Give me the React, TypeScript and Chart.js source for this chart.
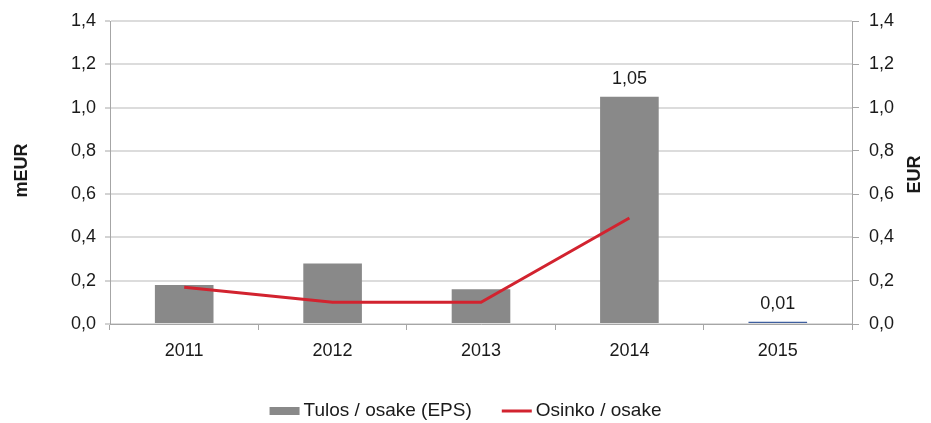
import React, { useEffect, useRef } from "react";
import { Chart, registerables } from "chart.js";

Chart.register(...registerables);

const years = ["2011", "2012", "2013", "2014", "2015"];
const eps = [0.18, 0.28, 0.16, 1.05, 0.01];
const epsColors = ["#898989", "#898989", "#898989", "#898989", "#3f5f9f"];
const epsShowLabel = [false, false, false, true, true];
const dividend = [0.17, 0.1, 0.1, 0.49, null];
const seriesNames = ["Tulos / osake (EPS)", "Osinko / osake"];
const leftTitle = "mEUR";
const rightTitle = "EUR";

const FONT = "'Liberation Sans', Arial, sans-serif";
const fmt = (v: number, d: number) => v.toFixed(d).replace(".", ",");

const extrasPlugin = {
  id: "extras",
  afterDraw(chart: any) {
    const ctx = chart.ctx as CanvasRenderingContext2D;
    const area = chart.chartArea;
    ctx.save();
    // data labels
    const meta = chart.getDatasetMeta(0);
    ctx.fillStyle = "#1a1a1a";
    ctx.font = `18px ${FONT}`;
    ctx.textAlign = "center";
    ctx.textBaseline = "bottom";
    meta.data.forEach((bar: any, i: number) => {
      if (!epsShowLabel[i]) return;
      ctx.fillText(fmt(eps[i], 2), bar.x, bar.y - 9);
    });
    // axis titles
    ctx.font = `bold 18px ${FONT}`;
    ctx.textBaseline = "middle";
    const cy = (area.top + area.bottom) / 2;
    ctx.save();
    ctx.translate(22, cy - 2);
    ctx.rotate(-Math.PI / 2);
    ctx.fillText(leftTitle, 0, 0);
    ctx.restore();
    ctx.save();
    ctx.translate(915, cy + 2);
    ctx.rotate(-Math.PI / 2);
    ctx.fillText(rightTitle, 0, 0);
    ctx.restore();
    // legend
    ctx.font = `19px ${FONT}`;
    ctx.textAlign = "left";
    const sw = 30, gapT = 4, gapItem = 30;
    const w0 = ctx.measureText(seriesNames[0]).width;
    const w1 = ctx.measureText(seriesNames[1]).width;
    const total = sw + gapT + w0 + gapItem + sw + gapT + w1;
    let x = chart.width / 2 - total / 2;
    const ly = 411;
    ctx.fillStyle = "#898989";
    ctx.fillRect(x, ly - 4, sw, 8);
    x += sw + gapT;
    ctx.fillStyle = "#1a1a1a";
    ctx.fillText(seriesNames[0], x, ly);
    x += w0 + gapItem;
    ctx.strokeStyle = "#d2232f";
    ctx.lineWidth = 3;
    ctx.beginPath();
    ctx.moveTo(x, ly);
    ctx.lineTo(x + sw, ly);
    ctx.stroke();
    x += sw + gapT;
    ctx.fillStyle = "#1a1a1a";
    ctx.fillText(seriesNames[1], x, ly);
    ctx.restore();
  },
};

export default function App() {
  const ref = useRef<HTMLCanvasElement | null>(null);
  useEffect(() => {
    if (!ref.current) return;
    Chart.defaults.font.family = FONT;
    const tickFont = { size: 18, family: FONT };
    const chart = new Chart(ref.current, {
      type: "bar",
      data: {
        labels: years,
        datasets: [
          {
            type: "bar",
            label: seriesNames[0],
            data: eps,
            backgroundColor: epsColors,
            barPercentage: 0.395,
            categoryPercentage: 1,
            yAxisID: "y",
            order: 1,
          },
          {
            type: "line",
            label: seriesNames[1],
            data: dividend as any,
            borderColor: "#d2232f",
            backgroundColor: "#d2232f",
            borderWidth: 3,
            pointRadius: 0,
            tension: 0,
            yAxisID: "y1",
            order: 0,
          },
        ] as any,
      },
      options: {
        animation: false,
        responsive: true,
        maintainAspectRatio: false,
        layout: { padding: { top: 21, left: 0, right: 0, bottom: 0 } },
        plugins: { legend: { display: false }, tooltip: { enabled: false } },
        scales: {
          x: {
            grid: {
              offset: true,
              drawOnChartArea: false,
              drawTicks: true,
              tickLength: 6,
              color: "#a6a6a6",
            },
            border: { color: "#a6a6a6", width: 1 },
            ticks: { color: "#1a1a1a", font: tickFont, padding: 10 },
            afterFit: (s: any) => {
              s.height = 99;
            },
          },
          y: {
            position: "left",
            min: 0,
            max: 1.4,
            ticks: {
              stepSize: 0.2,
              color: "#1a1a1a",
              font: tickFont,
              padding: 9,
              callback: (v: any) => fmt(Number(v), 1),
            },
            grid: {
              color: "#dcdcdc",
              lineWidth: 2,
              tickColor: "#a6a6a6",
              tickLength: 5,
              tickWidth: 1,
            },
            border: { color: "#a6a6a6", width: 1 },
            afterFit: (s: any) => {
              s.width = 110;
            },
          },
          y1: {
            position: "right",
            min: 0,
            max: 1.4,
            ticks: {
              stepSize: 0.2,
              color: "#1a1a1a",
              font: tickFont,
              padding: 10,
              callback: (v: any) => fmt(Number(v), 1),
            },
            grid: {
              drawOnChartArea: false,
              tickColor: "#a6a6a6",
              tickLength: 7,
            },
            border: { color: "#a6a6a6", width: 1 },
            afterFit: (s: any) => {
              s.width = 79;
            },
          },
        },
      },
      plugins: [extrasPlugin],
    });
    return () => chart.destroy();
  }, []);
  return (
    <div style={{ position: "fixed", left: 0, top: 0, width: 931, height: 423, background: "#fff" }}>
      <canvas ref={ref} />
    </div>
  );
}
